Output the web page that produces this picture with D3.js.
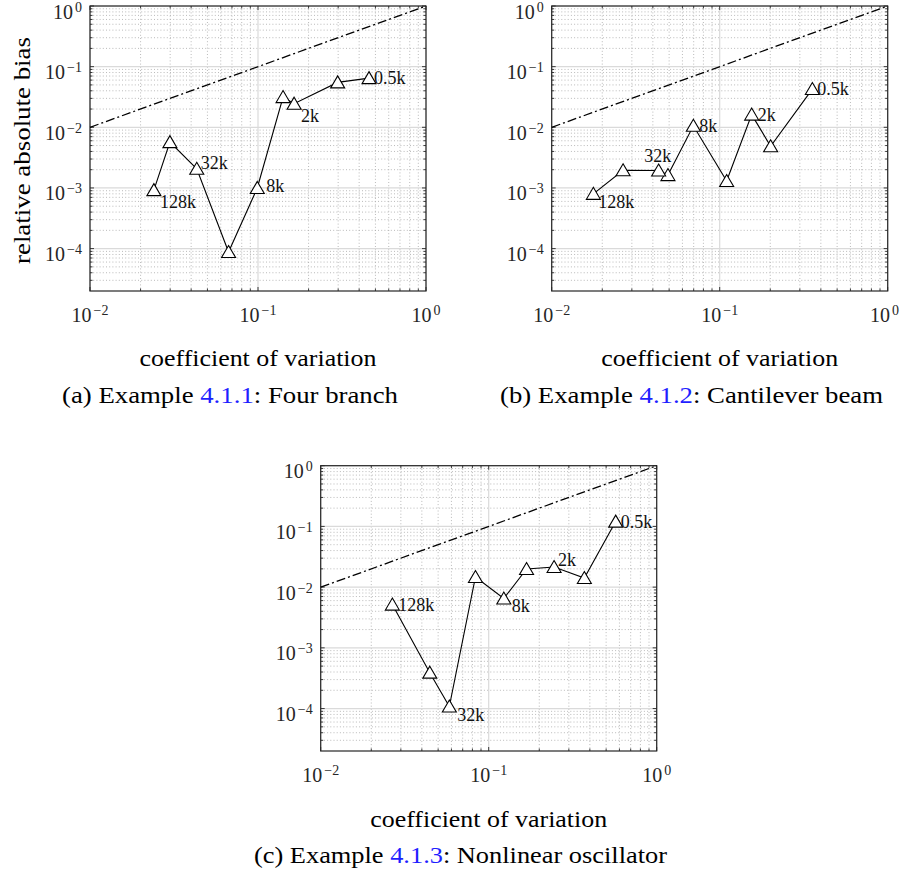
<!DOCTYPE html>
<html><head><meta charset="utf-8">
<script src="https://cdn.jsdelivr.net/npm/d3@7"></script>
<style>body{margin:0;background:#fff} svg{display:block}</style>
</head><body>
<svg id="chart" width="901" height="872"></svg>
<script>
// ---- data ----
const sampleSizes = ['0.5k','1k','2k','4k','8k','16k','32k','64k','128k'];
const labelledSizes = ['0.5k','2k','8k','32k','128k'];
const covA  = [0.458, 0.298, 0.164, 0.141, 0.099, 0.0668, 0.0432, 0.0299, 0.024];
const biasA = [0.0647, 0.055, 0.0245, 0.0315, 0.0010, 0.000088, 0.00207, 0.0057, 0.00092];
const covB  = [0.356, 0.201, 0.155, 0.110, 0.0697, 0.0492, 0.0433, 0.0266, 0.0177];
const biasB = [0.0427, 0.00487, 0.0162, 0.0013, 0.0106, 0.00163, 0.00194, 0.00196, 0.0008];
const covC  = [0.570, 0.371, 0.245, 0.168, 0.123, 0.0834, 0.0583, 0.0446, 0.0267];
const biasC = [0.120, 0.0141, 0.0214, 0.0199, 0.0065, 0.0147, 0.000108, 0.00039, 0.00516];
const refLineX = [0.01, 1];            // y = x reference
const xTickExps = [-2, -1, 0];
const yTickExps = [-4, -3, -2, -1, 0];
const xDomain = [0.01, 1];
const yDomain = [2e-5, 1];
const captionPrefix = ['(a) Example ', '(b) Example ', '(c) Example '];
const captionRef = ['4.1.1', '4.1.2', '4.1.3'];
const captionSuffix = [': Four branch', ': Cantilever beam', ': Nonlinear oscillator'];
const xLabel = 'coefficient of variation';
const yLabel = 'relative absolute bias';

// ---- layout ----
const panels = [
  {cov: covA, bias: biasA, x0: 90, x1: 426, y0: 6, y1: 291, yLabel: true,
   capX: 230, capW: 336, xlabY: 358, capY: 395,
   lab: {'0.5k':[5,0,'start'], '2k':[7,12,'start'], '8k':[9,-2,'start'], '32k':[4,-6,'start'], '128k':[6,12,'start']}},
  {cov: covB, bias: biasB, x0: 551.7, x1: 887.7, y0: 6, y1: 291, yLabel: false,
   capX: 691.5, capW: 383, xlabY: 358, capY: 395,
   lab: {'0.5k':[5,0,'start'], '2k':[6,0,'start'], '8k':[6,0,'start'], '32k':[-1,-14,'middle'], '128k':[5,8,'start']}},
  {cov: covC, bias: biasC, x0: 320.7, x1: 656.7, y0: 465.7, y1: 751, yLabel: false,
   capX: 460.5, capW: 413, xlabY: 819, capY: 855,
   lab: {'0.5k':[5,0,'start'], '2k':[4,-7,'start'], '8k':[8,8,'start'], '32k':[8,8,'start'], '128k':[6,0,'start']}}
];

const FONT = "'Liberation Serif', 'DejaVu Serif', 'Times New Roman', serif";
const W = 901;
const svg = d3.select('#chart');

function minorVals(lo, hi) {
  const out = [];
  for (let e = Math.floor(Math.log10(lo)); e < Math.ceil(Math.log10(hi)); e++) {
    for (let m = 2; m <= 9; m++) {
      const v = m * Math.pow(10, e);
      if (v > lo * 1.0001 && v < hi * 0.9999) out.push(v);
    }
  }
  return out;
}

function powLabel(sel, e) {
  sel.append('tspan').attr('font-size', 20).text('10');
  sel.append('tspan').attr('font-size', 14).attr('dx', 2).attr('dy', -7)
    .text(e < 0 ? '\u2212' + (-e) : String(e));
}

panels.forEach((p, i) => {
  const x = d3.scaleLog().domain(xDomain).range([p.x0, p.x1]);
  const y = d3.scaleLog().domain(yDomain).range([p.y1, p.y0]);
  const g = svg.append('g');

  const xMinor = minorVals(xDomain[0], xDomain[1]);
  const yMinor = minorVals(yDomain[0], yDomain[1]);
  const xMajor = xTickExps.map(e => Math.pow(10, e));
  const yMajor = yTickExps.map(e => Math.pow(10, e));

  // minor grid (dotted)
  g.selectAll('.vmin').data(xMinor).enter().append('line')
    .attr('x1', d => x(d)).attr('x2', d => x(d)).attr('y1', p.y0).attr('y2', p.y1)
    .attr('stroke', '#a8a8a8').attr('stroke-width', 0.8).attr('stroke-dasharray', '1,2.2');
  g.selectAll('.hmin').data(yMinor).enter().append('line')
    .attr('y1', d => y(d)).attr('y2', d => y(d)).attr('x1', p.x0).attr('x2', p.x1)
    .attr('stroke', '#a8a8a8').attr('stroke-width', 0.8).attr('stroke-dasharray', '1,2.2');
  // major grid
  g.selectAll('.vmaj').data(xMajor).enter().append('line')
    .attr('x1', d => x(d)).attr('x2', d => x(d)).attr('y1', p.y0).attr('y2', p.y1)
    .attr('stroke', '#dadada').attr('stroke-width', 1.2);
  g.selectAll('.hmaj').data(yMajor).enter().append('line')
    .attr('y1', d => y(d)).attr('y2', d => y(d)).attr('x1', p.x0).attr('x2', p.x1)
    .attr('stroke', '#dadada').attr('stroke-width', 1.2);

  // ticks (inward, all four sides)
  const tickCol = '#262626';
  const addX = (vals, len) => vals.forEach(v => {
    g.append('line').attr('x1', x(v)).attr('x2', x(v)).attr('y1', p.y1).attr('y2', p.y1 - len)
      .attr('stroke', tickCol).attr('stroke-width', 0.9);
    g.append('line').attr('x1', x(v)).attr('x2', x(v)).attr('y1', p.y0).attr('y2', p.y0 + len)
      .attr('stroke', tickCol).attr('stroke-width', 0.9);
  });
  const addY = (vals, len) => vals.forEach(v => {
    g.append('line').attr('y1', y(v)).attr('y2', y(v)).attr('x1', p.x0).attr('x2', p.x0 + len)
      .attr('stroke', tickCol).attr('stroke-width', 0.9);
    g.append('line').attr('y1', y(v)).attr('y2', y(v)).attr('x1', p.x1).attr('x2', p.x1 - len)
      .attr('stroke', tickCol).attr('stroke-width', 0.9);
  });
  addX(xMajor, 4); addX(xMinor, 2.5);
  addY(yMajor, 4); addY(yMinor, 2.5);

  // box
  g.append('rect').attr('x', p.x0).attr('y', p.y0).attr('width', p.x1 - p.x0).attr('height', p.y1 - p.y0)
    .attr('fill', 'none').attr('stroke', tickCol).attr('stroke-width', 1.2);

  // tick labels
  xTickExps.forEach(e => {
    const t = g.append('text').attr('x', x(Math.pow(10, e))).attr('y', p.y1 + 31)
      .attr('text-anchor', 'middle').attr('font-family', FONT).attr('fill', '#262626');
    powLabel(t, e);
    const bb = t.node().getBBox();
    if (bb.x + bb.width > W - 2) {
      t.attr('x', +t.attr('x') - (bb.x + bb.width - (W - 2)));
    }
  });
  yTickExps.forEach(e => {
    const t = g.append('text').attr('x', p.x0 - 8).attr('y', y(Math.pow(10, e)) + 12.5)
      .attr('text-anchor', 'end').attr('font-family', FONT).attr('fill', '#262626');
    powLabel(t, e);
  });

  // reference line y = x
  g.append('path').datum(refLineX)
    .attr('d', d3.line().x(d => x(d)).y(d => y(d)))
    .attr('fill', 'none').attr('stroke', '#000').attr('stroke-width', 1.3)
    .attr('stroke-dasharray', '9,3,2,3');

  // data line
  const pts = p.cov.map((c, k) => ({c, b: p.bias[k], n: sampleSizes[k]}));
  g.append('path').datum(pts)
    .attr('d', d3.line().x(d => x(d.c)).y(d => y(d.b)))
    .attr('fill', 'none').attr('stroke', '#000').attr('stroke-width', 1.1);

  // triangles
  g.selectAll('.tri').data(pts).enter().append('path')
    .attr('transform', d => `translate(${x(d.c)},${y(d.b)})`)
    .attr('d', 'M0,-6.5L7,5.5L-7,5.5Z')
    .attr('fill', '#fff').attr('stroke', '#000').attr('stroke-width', 1.1);

  // point labels
  pts.filter(d => labelledSizes.includes(d.n)).forEach(d => {
    const o = p.lab[d.n];
    g.append('text').attr('x', x(d.c) + o[0]).attr('y', y(d.b) + o[1])
      .attr('dominant-baseline', 'central').attr('text-anchor', o[2])
      .attr('font-family', FONT).attr('font-size', 18).attr('fill', '#111').text(d.n);
  });

  // axis label
  const cx = (p.x0 + p.x1) / 2;
  g.append('text').attr('x', cx).attr('y', p.xlabY).attr('dominant-baseline', 'central')
    .attr('text-anchor', 'middle').attr('font-family', FONT).attr('font-size', 23)
    .attr('textLength', 237).attr('lengthAdjust', 'spacingAndGlyphs').text(xLabel);
  if (p.yLabel) {
    g.append('text').attr('transform', `translate(22,${(p.y0 + p.y1) / 2 + 2}) rotate(-90)`)
      .attr('dominant-baseline', 'central').attr('text-anchor', 'middle')
      .attr('font-family', FONT).attr('font-size', 23)
      .attr('textLength', 227).attr('lengthAdjust', 'spacingAndGlyphs').text(yLabel);
  }

  // caption
  const cap = g.append('text').attr('x', p.capX).attr('y', p.capY).attr('dominant-baseline', 'central')
    .attr('text-anchor', 'middle').attr('font-family', FONT).attr('font-size', 23)
    .attr('textLength', p.capW).attr('lengthAdjust', 'spacingAndGlyphs');
  cap.append('tspan').text(captionPrefix[i]);
  cap.append('tspan').attr('fill', '#1f1fff').text(captionRef[i]);
  cap.append('tspan').text(captionSuffix[i]);
});
</script>
</body></html>
